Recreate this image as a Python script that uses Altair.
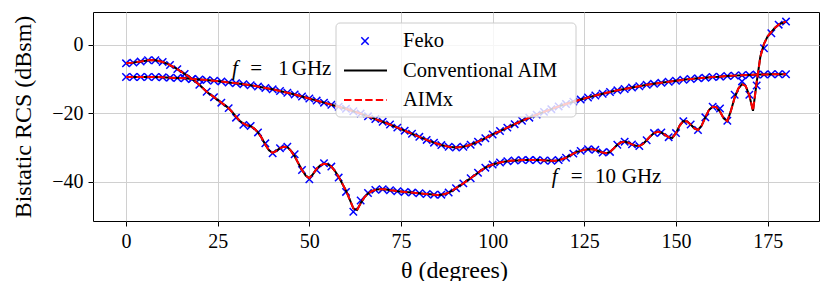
import altair as alt
import pandas as pd

# ---------------- data ----------------
theta_2deg = list(range(0, 181, 2))
theta_1deg = list(range(0, 181, 1))

# Feko reference (markers), every 2 degrees
feko_1ghz = [
    -9.4, -9.4, -9.4, -9.4, -9.4, -9.5, -9.6, -9.7, -9.8, -10.0,
    -10.1, -10.3, -10.5, -10.7, -11.0, -11.2, -11.5, -11.8, -12.2, -12.6,
    -13.0, -13.5, -14.0, -14.5, -15.1, -15.7, -16.3, -16.9, -17.5, -18.1,
    -18.7, -19.4, -20.1, -20.9, -21.7, -22.5, -23.3, -24.2, -25.1, -26.0,
    -26.9, -27.8, -28.6, -29.3, -29.8, -30.0, -29.8, -29.2, -28.3, -27.3,
    -26.2, -25.2, -24.2, -23.2, -22.2, -21.3, -20.4, -19.6, -18.8, -18.0,
    -17.3, -16.6, -16.0, -15.4, -14.8, -14.3, -13.8, -13.3, -12.9, -12.5,
    -12.1, -11.7, -11.4, -11.1, -10.8, -10.5, -10.2, -10.0, -9.8, -9.6,
    -9.4, -9.3, -9.1, -9.0, -8.9, -8.8, -8.7, -8.7, -8.6, -8.6,
    -8.6,
]
feko_10ghz = [
    -5.4, -5.2, -4.9, -4.5, -4.5, -5.0, -5.9, -7.1, -8.5, -10.0,
    -11.7, -13.7, -15.3, -16.9, -18.5, -21.3, -23.4, -23.7, -25.6, -28.8,
    -31.7, -30.2, -29.8, -32.0, -36.6, -39.3, -36.6, -34.6, -35.6, -38.8,
    -43.0, -48.8, -45.5, -43.3, -42.4, -42.2, -42.5, -42.8, -43.0, -43.2,
    -43.4, -43.6, -43.8, -43.8, -43.2, -41.9, -40.5, -39.0, -37.4, -35.9,
    -35.0, -34.4, -34.0, -33.8, -33.7, -33.7, -33.7, -33.8, -33.9, -33.7,
    -33.0, -31.8, -31.0, -30.5, -30.7, -31.5, -31.3, -29.2, -28.3, -29.1,
    -29.6, -27.9, -25.8, -25.6, -27.0, -25.8, -22.3, -23.3, -24.9, -21.2,
    -18.1, -18.6, -22.2, -14.6, -10.7, -14.6, -11.9, -1.0, 3.4, 5.9,
    6.8,
]

# Conventional AIM (solid) - 1 GHz every 2 deg, 10 GHz every 1 deg
aim_1ghz = list(feko_1ghz)
aim_10ghz = [
    -5.4, -5.3, -5.2, -5.0, -4.9, -4.7, -4.5, -4.4, -4.5, -4.7,
    -5.0, -5.4, -5.9, -6.5, -7.1, -7.8, -8.5, -9.2, -10.0, -10.8,
    -11.7, -12.7, -13.7, -14.5, -15.3, -16.1, -16.9, -17.7, -18.5, -19.7,
    -21.0, -22.2, -23.0, -23.5, -23.8, -24.5, -25.6, -27.2, -29.2, -30.8,
    -31.6, -31.0, -30.2, -29.8, -29.9, -31.0, -32.6, -34.6, -36.6, -38.2,
    -39.0, -37.8, -36.2, -35.2, -34.8, -34.9, -35.6, -36.9, -38.6, -40.6,
    -42.6, -45.2, -47.8, -48.3, -46.3, -44.6, -43.5, -42.8, -42.4, -42.2,
    -42.2, -42.3, -42.5, -42.6, -42.8, -42.9, -43.0, -43.1, -43.2, -43.3,
    -43.4, -43.5, -43.6, -43.7, -43.8, -43.9, -43.8, -43.6, -43.2, -42.6,
    -41.9, -41.2, -40.5, -39.7, -39.0, -38.2, -37.4, -36.6, -35.9, -35.4,
    -35.0, -34.7, -34.4, -34.2, -34.0, -33.9, -33.8, -33.8, -33.7, -33.7,
    -33.7, -33.7, -33.7, -33.7, -33.8, -33.8, -33.9, -33.9, -33.7, -33.4,
    -33.0, -32.4, -31.8, -31.3, -31.0, -30.7, -30.5, -30.5, -30.7, -31.1,
    -31.5, -31.7, -31.3, -30.3, -29.2, -28.5, -28.3, -28.6, -29.1, -29.5,
    -29.6, -29.0, -27.9, -26.7, -25.8, -25.4, -25.6, -26.3, -27.0, -27.2,
    -25.8, -23.6, -22.3, -22.4, -23.3, -24.4, -24.9, -23.6, -21.2, -19.0,
    -18.1, -18.2, -19.5, -21.5, -22.3, -19.2, -15.4, -12.8, -11.5, -12.0,
    -14.8, -19.3, -11.0, -3.5, 0.3, 2.5, 3.8, 5.0, 5.9, 6.4, 6.8,
]
# AIMx (dashed) coincides with conventional AIM
aimx_1ghz = list(aim_1ghz)
aimx_10ghz = list(aim_10ghz)

x_ticks = [0, 25, 50, 75, 100, 125, 150, 175]
y_ticks = [-40, -20, 0]
legend_labels = ["Feko", "Conventional AIM", "AIMx"]

# ---------------- tables ----------------
feko_df = pd.DataFrame({
    "theta": theta_2deg + theta_2deg,
    "rcs": feko_1ghz + feko_10ghz,
    "curve": ["1 GHz"] * len(theta_2deg) + ["10 GHz"] * len(theta_2deg),
})
aim_df = pd.DataFrame({
    "theta": theta_2deg + theta_1deg,
    "rcs": aim_1ghz + aim_10ghz,
    "curve": ["1 GHz"] * len(theta_2deg) + ["10 GHz"] * len(theta_1deg),
})
aimx_df = pd.DataFrame({
    "theta": theta_2deg + theta_1deg,
    "rcs": aimx_1ghz + aimx_10ghz,
    "curve": ["1 GHz"] * len(theta_2deg) + ["10 GHz"] * len(theta_1deg),
})

W, H = 726, 209
SERIF = "Liberation Serif"
XPATH = "M-1,-1L1,1M-1,1L1,-1"

xscale = alt.Scale(domain=[-9, 189], nice=False, zero=False)
yscale = alt.Scale(domain=[-51.5, 9.6], nice=False, zero=False)

X = alt.X("theta:Q", scale=xscale, axis=alt.Axis(
    values=x_ticks, title="θ (degrees)", titleX=W / 2 - 2, titleY=49,
    titleBaseline="middle", titleAlign="center", labelPadding=5))
Y = alt.Y("rcs:Q", scale=yscale, axis=alt.Axis(
    values=y_ticks, title="Bistatic RCS (dBsm)", titleX=-70, titleY=H / 2,
    titleBaseline="middle", titleAlign="center", titleAngle=-90,
    labelPadding=5, labelExpr="replace(datum.label, '-', '−')"))

feko = alt.Chart(feko_df).mark_point(
    shape=XPATH, size=55, filled=False, stroke="#0000ff", strokeWidth=1.5, opacity=1
).encode(x=X, y=Y)

aim = alt.Chart(aim_df).mark_line(color="black", strokeWidth=2).encode(
    x=X, y=Y, detail="curve:N")

aimx = alt.Chart(aimx_df).mark_line(
    color="#ff0000", strokeWidth=2, strokeDash=[7.4, 3.2]).encode(
    x=X, y=Y, detail="curve:N")

one = alt.Data(values=[{}])

def label(text, x, y, italic=False):
    kw = dict(text=text, font=SERIF, fontSize=21, align="left",
              baseline="alphabetic", color="black")
    if italic:
        kw["fontStyle"] = "italic"
    return alt.Chart(one).mark_text(**kw).encode(x=alt.datum(x), y=alt.datum(y))

ann = [
    label("f", 28.9, -8.8, True),
    label("=", 33.9, -8.8),
    label("1", 41.5, -8.8),
    label("GHz", 45.2, -8.8),
    label("f", 116.1, -40.3, True),
    label("=", 121.3, -40.3),
    label("10", 127.9, -40.3),
    label("GHz", 135.2, -40.3),
]

# ---------------- legend (drawn inside the plot) ----------------
leg_box = alt.Chart(one).mark_rect(
    fill="white", fillOpacity=0.8, stroke="#cccccc", strokeWidth=1, cornerRadius=4
).encode(x=alt.value(243), x2=alt.value(483), y=alt.value(11), y2=alt.value(105))

leg_feko = alt.Chart(one).mark_point(
    shape=XPATH, size=55, filled=False, stroke="#0000ff", strokeWidth=1.5, opacity=1
).encode(x=alt.value(272), y=alt.value(29))

leg_aim = alt.Chart(one).mark_rule(color="black", strokeWidth=2).encode(
    x=alt.value(251), x2=alt.value(294), y=alt.value(58.5))

leg_aimx = alt.Chart(one).mark_rule(
    color="#ff0000", strokeWidth=2, strokeDash=[7.4, 3.2]).encode(
    x=alt.value(251), x2=alt.value(294), y=alt.value(88))

leg_text = [
    alt.Chart(one).mark_text(text=t, font=SERIF, fontSize=20.5, align="left",
                             baseline="middle", color="black").encode(
        x=alt.value(310), y=alt.value(yy))
    for t, yy in zip(legend_labels, [29, 58.5, 88])
]

chart = alt.layer(
    feko, aim, aimx, *ann, leg_box, leg_feko, leg_aim, leg_aimx, *leg_text
).properties(
    width=W, height=H,
    autosize=alt.AutoSizeParams(type="none"),
    padding={"left": 85, "top": 4, "right": 3, "bottom": 60},
).configure_view(
    stroke="black", strokeWidth=1
).configure_axis(
    grid=True, gridColor="#d0d0d0", gridWidth=1,
    domain=False, ticks=True, tickColor="black", tickSize=5, tickWidth=1,
    labelFont=SERIF, labelFontSize=20, labelColor="black",
    titleFont=SERIF, titleFontSize=24, titleFontWeight="normal", titleColor="black",
)

chart.save("out.html", embed_options={"renderer": "svg", "actions": False})
